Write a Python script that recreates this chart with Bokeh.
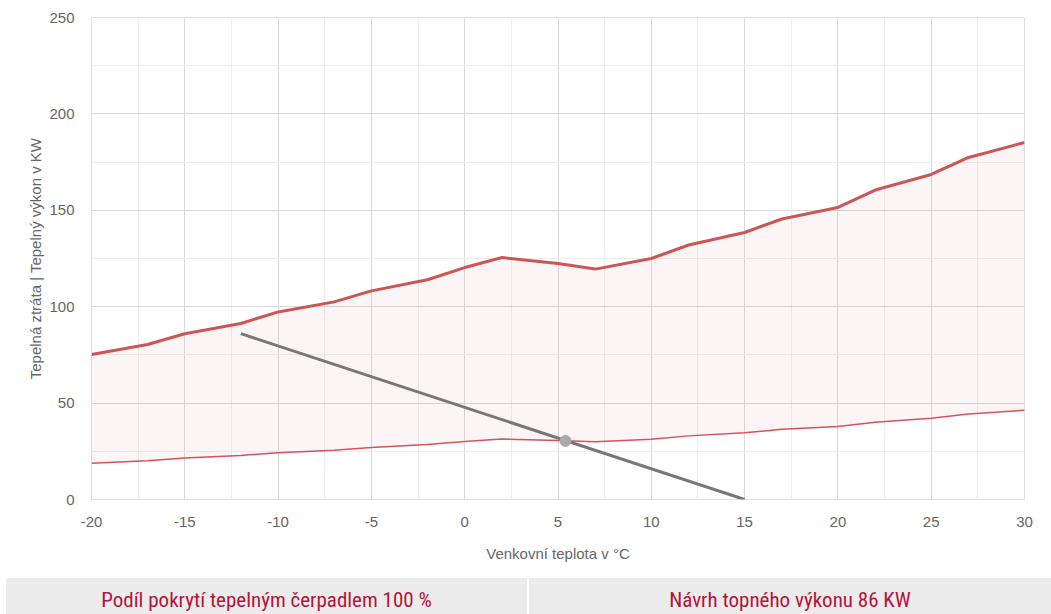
from bokeh.plotting import figure
from bokeh.models import Range1d, SingleIntervalTicker, Div, NumeralTickFormatter
from bokeh.layouts import column
from bokeh.embed import file_html
from bokeh.resources import INLINE

# ---- data ----
temps = [-20, -17, -15, -12, -10, -7, -5, -2, 0, 2, 5, 7, 10, 12, 15, 17, 20, 22, 25, 27, 30]
upper = [75.2, 80.4, 86.0, 91.3, 97.3, 102.5, 108.2, 114.0, 120.3, 125.5, 122.4, 119.5,
         125.0, 132.0, 138.5, 145.5, 151.5, 160.5, 168.6, 177.4, 185.2]
lower = [18.8, 20.1, 21.5, 22.8, 24.3, 25.6, 27.0, 28.5, 30.1, 31.4, 30.6, 29.9,
         31.3, 33.0, 34.6, 36.4, 37.9, 40.1, 42.2, 44.4, 46.3]
pump_x = [-12, 15]
pump_y = [86, 0]
balance_x = [5.4]
balance_y = [30.4]
x_ticks_interval = 5
y_ticks_interval = 50
coverage_text = "Podíl pokrytí tepelným čerpadlem 100 %"
design_text = "Návrh topného výkonu 86 KW"

FONT = "Liberation Sans"

p = figure(width=1051, height=578, output_backend="svg", toolbar_location=None,
           x_range=Range1d(-20, 30), y_range=Range1d(0, 250),
           min_border_left=91, min_border_right=27, min_border_top=17, min_border_bottom=79)

p.xaxis.ticker = SingleIntervalTicker(interval=x_ticks_interval, num_minor_ticks=2)
p.yaxis.ticker = SingleIntervalTicker(interval=y_ticks_interval, num_minor_ticks=2)
p.xaxis.formatter = NumeralTickFormatter(format="0")
p.yaxis.formatter = NumeralTickFormatter(format="0")

for ax in (p.xaxis[0], p.yaxis[0]):
    ax.axis_line_color = None
    ax.major_tick_line_color = None
    ax.minor_tick_line_color = None
    ax.major_label_text_font = FONT
    ax.major_label_text_font_size = "15px"
    ax.major_label_text_color = "#666666"
    ax.axis_label_text_font = FONT
    ax.axis_label_text_font_size = "15px"
    ax.axis_label_text_color = "#666666"
    ax.axis_label_text_font_style = "normal"

p.xaxis.axis_label = "Venkovní teplota v °C"
p.yaxis.axis_label = "Tepelná ztráta | Tepelný výkon v KW"
p.xaxis.major_label_standoff = 11
p.xaxis.axis_label_standoff = 15
p.yaxis.major_label_standoff = 11
p.yaxis.axis_label_standoff = 2

p.xgrid.grid_line_color = "#dadada"
p.ygrid.grid_line_color = "#dadada"
p.xgrid.minor_grid_line_color = "#eeeeee"
p.ygrid.minor_grid_line_color = "#eeeeee"
p.outline_line_color = "#e0e0e0"

p.varea(x=temps, y1=lower, y2=upper, fill_color="#d05050", fill_alpha=0.06)
p.line(temps, lower, line_color="#d9505f", line_width=1.5)
p.line(temps, upper, line_color="#cc5555", line_width=3)
p.line(pump_x, pump_y, line_color="#777777", line_width=3)
p.scatter(balance_x, balance_y, size=11, fill_color="#aaaaaa", line_color="#aaaaaa")

cell = ("flex:{flex};height:36px;background:#ececec;text-align:center;"
        "font-family:'Liberation Sans Narrow','Roboto Condensed','Open Sans',sans-serif;"
        "font-size:21px;line-height:21px;color:#b2143c;padding-top:12px;box-sizing:border-box;"
        "white-space:nowrap;overflow:hidden;")
html = (
    '<div style="display:flex;width:1051px;height:36px;overflow:hidden;">'
    '<div style="width:6px;"></div>'
    f'<div style="{cell.format(flex="0 0 521px")}">{coverage_text}</div>'
    '<div style="width:2px;"></div>'
    f'<div style="{cell.format(flex="1 1 auto")}">{design_text}</div>'
    '</div>'
)
box = Div(text=html, width=1051, height=36, margin=0)

layout = column(p, box, spacing=0)
open("out.html", "w").write(file_html(layout, INLINE))
